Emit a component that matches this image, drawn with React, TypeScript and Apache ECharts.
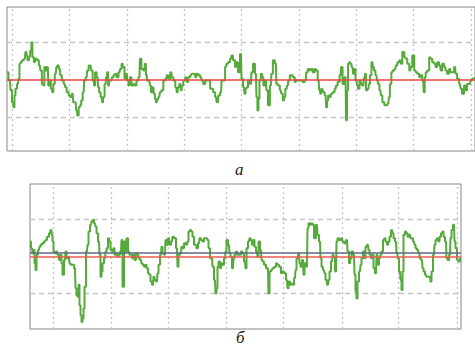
import React, { useEffect, useRef } from "react";
import * as echarts from "echarts";

// Panel "а" (top): sample index and signal value (grid lines at ±1)
const topT = [0,3,4,6,7,8,9,11,12,13,14,16,18,19,20,21,23,24,25,26,28,29,31,33,34,36,37,38,39,41,42,43,45,46,47,49,50,51,53,54,56,58,59,61,63,64,66,67,69,70,71,73,74,75,77,78,80,81,83,84,85,87,88,89,91,92,93,95,96,97,99,100,101,102,103,105,106,108,109,111,113,114,116,117,119,120,121,123,124,126,128,129,131,133,134,136,138,139,140,141,143,144,145,147,148,149,150,151,153,154,156,158,160,161,163,165,166,168,170,171,172,174,175,176,178,180,181,183,185,186,188,190,191,193,195,196,198,200,201,203,205,206,208,210,211,213,215,216,218,220,221,223,225,226,228,230,231,233,235,236,238,239,240,241,243,245,246,248,250,251,252,253,254,256,257,258,260,261,263,265,266,268,270,271,273,275,276,278,279,280,282,283,285,286,288,290,291,293,295,296,298,300,301,303,305,306,308,310,311,313,314,315,316,317,318,320,321,322,323,325,326,328,330,331,333,335,336,338,340,341,342,343,344,345,347,348,349,351,352,353,355,356,357,359,360,361,363,364,365,367,368,369,371,372,373,375,376,378,380,381,383,384,385,387,388,390,391,393,395,396,398,400,401,403,405,406,408,410,411,413,415,416,418,419,420,421,423,425,426,428,430,431,433,435,436,438,440,441,443,445,446,448,450,451,453,455,456,458,460,461,463,465,466,468,470];
const topV = [0.20,-0.02,-0.28,-0.60,-0.73,-0.42,-0.24,-0.11,0.03,0.43,0.47,0.52,0.56,0.74,0.65,0.52,0.60,0.78,1.00,0.60,0.47,0.56,0.52,0.38,0.25,-0.11,-0.15,0.34,0.25,0.34,-0.15,-0.02,-0.24,-0.33,-0.11,0.16,0.34,0.38,0.29,0.12,-0.02,-0.11,-0.20,-0.33,-0.42,-0.46,-0.37,-0.60,-0.60,-0.82,-0.95,-0.73,-0.68,-0.55,-0.33,-0.02,0.07,0.25,0.38,0.38,0.25,-0.02,-0.15,0.20,0.07,-0.20,-0.33,-0.46,-0.60,-0.46,-0.11,0.07,0.20,-0.15,-0.02,-0.02,0.07,0.12,0.16,0.07,0.20,0.29,0.43,0.34,0.03,0.16,-0.02,-0.15,0.07,-0.15,-0.11,-0.15,-0.02,0.07,0.56,0.29,0.25,0.43,0.12,-0.02,-0.02,-0.15,-0.33,-0.20,-0.37,-0.51,-0.60,-0.51,-0.46,-0.33,-0.28,-0.02,0.03,0.12,0.03,0.20,0.07,-0.02,-0.20,-0.33,-0.20,-0.11,-0.28,-0.15,-0.02,0.07,-0.06,0.07,0.12,0.16,0.16,0.07,0.16,0.12,0.07,-0.02,-0.11,-0.02,-0.02,-0.02,-0.24,-0.24,-0.33,-0.46,-0.60,-0.42,-0.33,-0.02,-0.02,0.34,0.43,0.47,0.56,0.65,0.52,0.34,0.47,0.20,0.69,0.03,-0.20,-0.37,-0.24,-0.20,-0.02,-0.11,0.20,0.43,0.16,-0.46,-0.82,-0.51,-0.02,0.16,0.07,-0.15,-0.02,-0.28,-0.68,-0.15,0.16,0.52,0.43,-0.11,-0.15,-0.28,-0.37,-0.55,-0.46,-0.24,-0.15,-0.02,0.12,0.12,0.07,-0.06,-0.02,-0.02,-0.02,-0.02,-0.06,-0.02,0.20,0.29,0.25,0.29,0.20,0.29,0.25,-0.02,-0.28,-0.37,-0.24,-0.28,-0.33,-0.42,-0.73,-0.55,-0.42,-0.46,-0.37,-0.33,-0.24,-0.15,-0.06,0.12,0.34,-0.11,0.07,-1.08,-0.28,0.43,0.47,0.43,0.34,0.16,0.29,-0.02,-0.15,-0.24,-0.02,-0.11,-0.15,0.03,0.16,-0.28,-0.24,-0.11,0.12,0.47,0.34,0.25,0.12,-0.02,-0.11,-0.28,-0.42,-0.60,-0.68,-0.68,-0.64,-0.46,-0.11,0.20,0.25,0.29,0.38,0.47,0.52,0.43,0.74,0.60,0.56,0.43,0.25,0.34,0.65,0.25,0.20,0.16,0.07,0.12,-0.02,-0.33,0.07,0.20,0.25,0.60,0.56,0.47,0.43,0.34,0.47,0.38,0.25,0.43,0.34,0.25,0.16,0.29,0.20,0.20,0.34,0.16,0.03,-0.11,-0.24,-0.37,-0.15,-0.28,-0.11,-0.11,-0.02,0.03,0.05];

// Panel "б" (bottom)
const botT = [0,2,3,4,5,6,7,9,10,11,13,15,16,18,20,21,22,23,24,25,27,28,30,31,32,33,35,36,37,39,40,41,43,45,46,47,48,49,50,51,52,53,54,55,57,58,59,61,62,63,65,66,67,69,70,71,72,73,75,76,77,79,80,81,83,84,85,87,88,89,91,92,93,95,96,97,99,100,101,103,104,105,107,108,109,111,112,113,115,116,117,119,120,121,123,124,125,127,128,129,131,132,133,135,136,137,139,140,142,143,145,147,148,149,151,152,153,155,157,158,159,161,162,163,165,166,167,169,170,172,173,175,177,178,179,181,182,183,185,186,187,188,189,191,192,193,195,196,197,199,200,201,203,204,205,207,208,210,212,213,215,216,217,219,220,221,223,224,225,227,228,229,231,232,233,235,237,238,239,240,242,243,245,247,248,250,252,253,255,257,258,259,261,262,263,265,266,267,269,270,271,273,274,275,277,278,279,281,282,283,285,287,288,290,291,292,294,295,296,298,299,300,302,303,304,306,307,308,310,312,313,315,317,318,320,321,322,324,325,326,327,328,330,331,332,334,335,336,338,339,340,342,343,344,346,347,348,350,351,352,354,355,356,358,359,360,362,363,364,366,367,368,370,371,372,373,374,376,377,378,380,381,382,384,385,386,388,389,390,392,393,394,396,397,398,400,401,402,404,405,406,408,409,410,412,413,414,416,417,418,420,421,422,424,425,426,428,429,431];
const botV = [0.40,0.22,0.08,0.17,-0.19,-0.37,0.04,0.17,0.26,0.31,0.35,0.40,0.44,0.53,0.62,0.71,0.58,0.40,0.13,0.08,0.13,0.04,-0.10,0.04,-0.19,-0.50,-0.10,0.13,-0.05,-0.01,-0.19,-0.23,-0.23,-0.32,-0.86,-1.05,-1.09,-0.77,-1.32,-1.59,-1.77,-1.68,-1.41,-0.82,0.13,0.31,0.67,0.85,0.94,0.98,0.89,0.80,0.62,0.40,0.04,-0.55,-0.41,-0.19,-0.05,0.13,0.22,0.49,0.40,0.17,0.13,0.22,0.04,0.08,-0.01,0.04,0.13,0.44,-0.82,0.40,0.13,0.49,0.13,0.04,0.04,-0.05,0.04,-0.10,0.08,0.04,-0.05,-0.10,-0.19,-0.23,-0.28,-0.23,-0.32,-0.46,-0.50,-0.68,-0.77,-0.55,-0.64,-0.68,-0.46,-0.23,0.04,0.26,0.08,0.04,0.44,0.31,0.49,0.31,0.40,0.53,0.49,0.22,-0.28,0.04,0.08,0.26,0.22,0.35,0.31,0.40,0.67,0.71,0.67,0.53,0.31,0.31,0.22,0.35,0.49,0.44,0.40,0.49,0.49,0.44,0.22,-0.05,-0.05,-0.28,-0.64,-1.00,-0.86,-0.28,-0.14,-0.32,-0.19,-0.23,-0.05,0.13,0.44,0.31,0.08,-0.01,-0.32,-0.05,0.04,0.13,0.04,0.04,0.13,0.08,-0.14,-0.32,0.22,0.40,0.49,0.44,0.31,0.44,0.26,0.13,-0.01,0.40,0.17,-0.10,-0.14,-0.23,-0.32,-0.32,-1.00,-0.41,-0.37,-0.32,-0.28,-0.19,-0.23,-0.28,-0.46,-0.41,-0.46,-0.64,-0.86,-0.68,-0.77,-0.73,-0.77,-0.59,-0.37,-0.05,0.08,-0.19,-0.28,-0.10,-0.50,-0.19,-0.28,0.76,0.89,0.85,0.89,0.85,0.49,0.85,0.58,0.40,-0.05,-0.28,-0.37,-0.46,-0.64,-0.77,-0.64,-0.41,-0.14,0.04,-0.01,-0.41,0.40,0.49,0.44,0.49,0.40,0.35,0.44,0.13,-0.19,-0.05,0.13,0.04,-0.50,-0.95,-1.14,-0.68,-0.41,-0.23,-0.05,0.13,-0.05,0.26,0.31,0.17,0.04,-0.05,0.04,-0.32,-0.46,0.04,-0.23,-0.05,0.04,0.13,0.44,0.49,0.40,0.31,0.40,0.53,0.71,0.62,0.49,0.40,0.08,-0.05,-0.41,-0.64,-0.91,-0.41,0.58,0.67,0.62,0.53,0.58,0.49,0.49,0.40,0.31,0.22,0.17,0.08,-0.05,-0.10,-0.32,-0.41,-0.50,-0.55,-0.55,-0.55,-0.68,-0.41,0.04,0.31,0.44,0.49,0.40,0.53,0.62,0.67,0.53,0.40,-0.05,-0.10,0.04,0.49,0.71,0.85,0.40,0.22,-0.10,-0.14,-0.05];

const topGridX = [5, 63, 121, 178, 235, 293, 351, 408, 466];
const botGridX = [23, 81, 138, 196, 253, 312, 368, 427];
const gridY = [1, -1];
const botUpperLevel = 0.1;
const meanLevel = 0;

const GREEN = "#55aa3b";
const GRIDC = "#c4c4c4";

function gridLines(xs: number[]) {
  return [
    ...xs.map((v) => ({ xAxis: v, lineStyle: { type: [2, 3] as any, color: GRIDC, width: 1.3 } })),
    ...gridY.map((v) => ({ yAxis: v, lineStyle: { type: [5, 4] as any, color: GRIDC, width: 1.3 } })),
  ];
}

export default function App() {
  const ref = useRef<HTMLDivElement>(null);
  useEffect(() => {
    if (!ref.current) return;
    const chart = echarts.init(ref.current, null, { renderer: "svg" });
    const topData = topT.map((t, i) => [t, topV[i]]);
    const botData = botT.map((t, i) => [t, botV[i]]);
    const common = {
      type: "line",
      showSymbol: false,
      symbol: "none",
      step: "middle",
      lineStyle: { color: GREEN, width: 2 },
      z: 3,
    };
    chart.setOption({
      animation: false,
      backgroundColor: "#ffffff",
      grid: [
        { left: 7, top: 7, width: 470, height: 144, show: true, borderColor: "#858585", borderWidth: 1, backgroundColor: "transparent" },
        { left: 30, top: 184, width: 431, height: 145, show: true, borderColor: "#858585", borderWidth: 1, backgroundColor: "transparent" },
      ],
      xAxis: [
        { type: "value", gridIndex: 0, min: 0, max: 470, show: false },
        { type: "value", gridIndex: 1, min: 0, max: 431, show: false },
      ],
      yAxis: [
        { type: "value", gridIndex: 0, min: -1.9, max: 1.94, show: false },
        { type: "value", gridIndex: 1, min: -1.96, max: 1.95, show: false },
      ],
      series: [
        {
          type: "line", xAxisIndex: 0, yAxisIndex: 0, data: [], silent: true,
          markLine: { silent: true, z: 1, symbol: ["none", "none"], label: { show: false }, data: gridLines(topGridX) },
        },
        {
          type: "line", xAxisIndex: 1, yAxisIndex: 1, data: [], silent: true,
          markLine: { silent: true, z: 1, symbol: ["none", "none"], label: { show: false }, data: gridLines(botGridX) },
        },
        {
          ...common, xAxisIndex: 0, yAxisIndex: 0, data: topData,
          markLine: {
            silent: true, z: 5, symbol: ["none", "none"], label: { show: false },
            data: [{ yAxis: meanLevel, lineStyle: { color: "#e8473f", width: 1.6, type: "solid" } }],
          },
        },
        {
          ...common, xAxisIndex: 1, yAxisIndex: 1, data: botData,
          markLine: {
            silent: true, z: 5, symbol: ["none", "none"], label: { show: false },
            data: [
              { yAxis: botUpperLevel, lineStyle: { color: "#5d6a86", width: 1.5, type: "solid" } },
              { yAxis: meanLevel, lineStyle: { color: "#ee5a50", width: 1.6, type: "solid" } },
            ],
          },
        },
      ],
      graphic: [
        { type: "text", left: 235, top: 161, style: { text: "а", font: 'italic 17px "Liberation Serif"', fill: "#222" } },
        { type: "text", left: 236, top: 329, style: { text: "б", font: 'italic 17px "Liberation Serif"', fill: "#222" } },
      ],
    });
    return () => chart.dispose();
  }, []);
  return <div ref={ref} style={{ position: "absolute", left: 0, top: 0, width: 475, height: 352 }} />;
}
